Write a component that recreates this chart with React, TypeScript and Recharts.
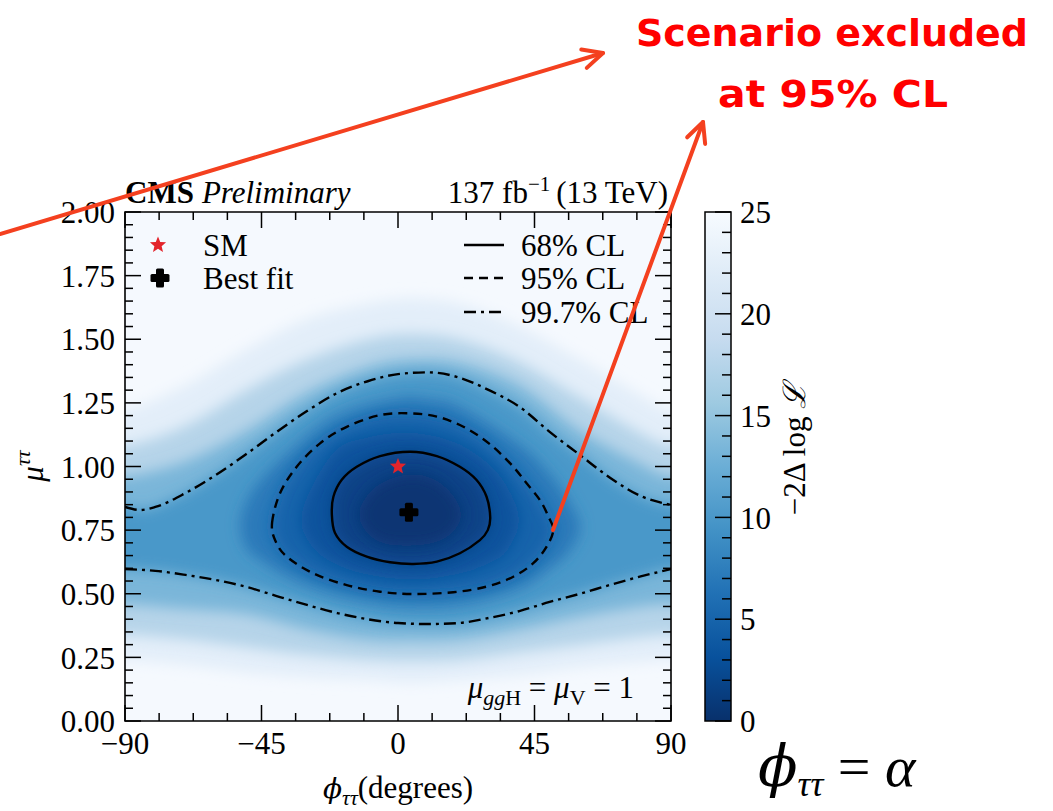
// Likelihood scan of mu_tautau vs phi_tautau (CMS style) with colorbar and annotations.
import React from "react";
import {
  ComposedChart,
  BarChart,
  Bar,
  Scatter,
  XAxis,
  YAxis,
  CartesianGrid,
  ReferenceArea,
} from "recharts";

const W = 1053;
const H = 811;
const PW = 546; // plot width
const PH = 509; // plot height
const SERIF = "'Liberation Serif', 'DejaVu Serif', serif";
const GREEK = "'DejaVu Serif', serif";

// axis ticks
const phiTicks = [-90, -78.75, -67.5, -56.25, -45, -33.75, -22.5, -11.25, 0, 11.25, 22.5, 33.75, 45, 56.25, 67.5, 78.75, 90];
const phiMajor = [-90, -45, 0, 45, 90];
const muTicks = [0, 0.05, 0.1, 0.15, 0.2, 0.25, 0.3, 0.35, 0.4, 0.45, 0.5, 0.55, 0.6, 0.65, 0.7, 0.75, 0.8, 0.85, 0.9, 0.95, 1, 1.05, 1.1, 1.15, 1.2, 1.25, 1.3, 1.35, 1.4, 1.45, 1.5, 1.55, 1.6, 1.65, 1.7, 1.75, 1.8, 1.85, 1.9, 1.95, 2];
const muMajor = [0, 0.25, 0.5, 0.75, 1, 1.25, 1.5, 1.75, 2];
const cbTicks = [0, 1, 2, 3, 4, 5, 6, 7, 8, 9, 10, 11, 12, 13, 14, 15, 16, 17, 18, 19, 20, 21, 22, 23, 24, 25];
const cbMajor = [0, 5, 10, 15, 20, 25];

// Blues_r colormap stops (top = 25, bottom = 0)
const cmapStops = ["#f7fbff", "#deebf7", "#c6dbef", "#9ecae1", "#6baed6", "#4292c6", "#2171b5", "#08519c", "#08306b"];

// -2 dlogL level regions, [phi, mu]
const lvl25Up = [[-90, 1.22], [-70, 1.32], [-50, 1.46], [-30, 1.58], [-10, 1.64], [4, 1.66], [20, 1.64], [40, 1.55], [60, 1.42], [80, 1.28], [90, 1.22]];
const lvl25Lo = [[-90, 0.24], [-70, 0.22], [-50, 0.19], [-30, 0.17], [-10, 0.16], [4, 0.15], [20, 0.16], [40, 0.18], [60, 0.21], [80, 0.23], [90, 0.24]];
const lvl20Up = [[-90, 1.08], [-70, 1.16], [-50, 1.3], [-30, 1.42], [-10, 1.5], [4, 1.52], [20, 1.5], [40, 1.41], [60, 1.27], [80, 1.13], [90, 1.08]];
const lvl20Lo = [[-90, 0.34], [-70, 0.32], [-50, 0.29], [-30, 0.26], [-10, 0.24], [4, 0.235], [20, 0.24], [40, 0.27], [60, 0.3], [80, 0.33], [90, 0.34]];
const lvl15Up = [[-90, 0.96], [-70, 1.02], [-50, 1.14], [-30, 1.29], [-10, 1.39], [4, 1.42], [20, 1.41], [40, 1.32], [60, 1.14], [80, 1.01], [90, 0.96]];
const lvl15Lo = [[-90, 0.46], [-70, 0.44], [-50, 0.42], [-30, 0.36], [-10, 0.32], [4, 0.315], [20, 0.32], [40, 0.36], [60, 0.41], [80, 0.45], [90, 0.46]];
// 99.7% CL contour (two open curves)
const cl997Up = [[-90, 0.841], [-85, 0.829], [-80, 0.841], [-70, 0.896], [-60, 0.967], [-50, 1.049], [-40, 1.136], [-30, 1.218], [-20, 1.289], [-10, 1.335], [0, 1.363], [10, 1.37], [20, 1.35], [30, 1.3], [40, 1.235], [50, 1.136], [60, 1.045], [70, 0.955], [80, 0.884], [90, 0.849]];
const cl997Lo = [[-90, 0.597], [-80, 0.59], [-70, 0.574], [-60, 0.554], [-50, 0.527], [-40, 0.491], [-30, 0.456], [-20, 0.424], [-10, 0.4], [0, 0.385], [10, 0.381], [20, 0.385], [30, 0.405], [40, 0.432], [50, 0.468], [60, 0.5], [70, 0.535], [80, 0.568], [90, 0.597]];
const lvl8 = [[-52, 0.77], [-50, 0.86], [-45, 0.95], [-35, 1.064], [-20, 1.199], [0, 1.269], [10, 1.265], [20, 1.237], [40, 1.086], [50, 0.97], [56, 0.87], [60, 0.76], [56, 0.66], [50, 0.6], [40, 0.523], [20, 0.46], [0, 0.455], [-20, 0.497], [-35, 0.56], [-45, 0.63], [-50, 0.68]];
// 95% CL contour
const cl95 = [[-41.5, 0.78], [-38.9, 0.895], [-33.4, 0.999], [-25.7, 1.091], [-16.9, 1.156], [-5.9, 1.202], [4, 1.209], [12.8, 1.196], [20.4, 1.163], [27, 1.117], [32.5, 1.065], [38, 0.999], [42.4, 0.934], [46.8, 0.868], [49.6, 0.803], [51.2, 0.75], [49, 0.685], [44.6, 0.62], [38, 0.567], [29.2, 0.528], [18.2, 0.506], [5, 0.499], [-5.9, 0.508], [-16.9, 0.534], [-27.9, 0.58], [-36.7, 0.646], [-40.5, 0.71]];
const lvl4 = [[-32, 0.79], [-28, 0.93], [-20, 1.07], [-10, 1.115], [0, 1.133], [10, 1.125], [20, 1.089], [30, 1.01], [36, 0.92], [40, 0.79], [36, 0.67], [30, 0.62], [20, 0.578], [5, 0.555], [-10, 0.575], [-20, 0.613], [-28, 0.68]];
// 68% CL contour
const cl68 = [[-21.8, 0.81], [-21.3, 0.881], [-18.6, 0.947], [-13.6, 0.999], [-5.9, 1.041], [4, 1.058], [12.8, 1.041], [20.4, 0.999], [25.9, 0.947], [29.2, 0.881], [30.4, 0.8], [29.6, 0.75], [27, 0.711], [20.4, 0.659], [12.8, 0.626], [5, 0.617], [-2.6, 0.624], [-10.3, 0.646], [-16.9, 0.685], [-20.8, 0.74]];
const lvl1 = [[-13, 0.81], [-10, 0.89], [-4, 0.945], [4, 0.97], [12, 0.95], [18, 0.89], [21, 0.81], [18, 0.74], [12, 0.7], [4, 0.688], [-4, 0.695], [-10, 0.735]];

const smPoint = [[0, 1.0]];
const bestFitPoint = [[3.6, 0.82]];

const toXY = (arr: number[][]) => arr.map(([x, y]) => ({ x, y }));
const band = (up: number[][], lo: number[][]) => {
  const pts = [[-105, up[0][1]], ...up, [105, up[up.length - 1][1]], [105, lo[lo.length - 1][1]], ...[...lo].reverse(), [-105, lo[0][1]]];
  return toXY(pts);
};

const fills = [
  { key: "l25", pts: band(lvl25Up, lvl25Lo), color: "#e3eef9" },
  { key: "l20", pts: band(lvl20Up, lvl20Lo), color: "#b6d4e9" },
  { key: "l15", pts: band(lvl15Up, lvl15Lo), color: "#7ab6d9" },
  { key: "l11", pts: band(cl997Up, cl997Lo), color: "#4a98c9" },
  { key: "l8", pts: toXY(lvl8), color: "#2979b9" },
  { key: "l6", pts: toXY(cl95), color: "#1764ab" },
  { key: "l4", pts: toXY(lvl4), color: "#09529d" },
  { key: "l2", pts: toXY(cl68), color: "#084286" },
  { key: "l1", pts: toXY(lvl1), color: "#083573" },
];

// closed Catmull-Rom curve for d3 line
const catmullClosed = (ctx: any) => {
  let pts: number[][] = [];
  return {
    areaStart() {},
    areaEnd() {},
    lineStart() {
      pts = [];
    },
    point(x: number, y: number) {
      pts.push([+x, +y]);
    },
    lineEnd() {
      const n = pts.length;
      if (n < 3) return;
      ctx.moveTo(pts[0][0], pts[0][1]);
      for (let i = 0; i < n; i++) {
        const p0 = pts[(i - 1 + n) % n];
        const p1 = pts[i];
        const p2 = pts[(i + 1) % n];
        const p3 = pts[(i + 2) % n];
        ctx.bezierCurveTo(
          p1[0] + (p2[0] - p0[0]) / 6,
          p1[1] + (p2[1] - p0[1]) / 6,
          p2[0] - (p3[0] - p1[0]) / 6,
          p2[1] - (p3[1] - p1[1]) / 6,
          p2[0],
          p2[1]
        );
      }
      ctx.closePath();
    },
  };
};

const Hidden = () => <g />;

const starPath = (cx: number, cy: number, R: number, r: number) => {
  let d = "";
  for (let i = 0; i < 10; i++) {
    const a = -Math.PI / 2 + (i * Math.PI) / 5;
    const rr = i % 2 ? r : R;
    d += (i ? "L" : "M") + (cx + rr * Math.cos(a)).toFixed(2) + "," + (cy + rr * Math.sin(a)).toFixed(2);
  }
  return d + "Z";
};

const Star = ({ cx, cy }: any) => <path d={starPath(cx, cy, 8.5, 3.8)} fill="#e3242b" />;
const Plus = ({ cx, cy }: any) => (
  <g fill="#000">
    <rect x={cx - 9.5} y={cy - 4} width={19} height={8} rx={1.5} />
    <rect x={cx - 4} y={cy - 9.5} width={8} height={19} rx={1.5} />
  </g>
);

const fmtPhi = (v: number) => (v < 0 ? "\u2212" + Math.abs(v) : String(v));

const XTick = ({ x, y, payload }: any) => {
  const v = payload.value;
  const major = phiMajor.includes(v);
  const len = major ? 16 : 8;
  return (
    <g>
      <line x1={x} y1={y} x2={x} y2={y - len} stroke="#000" strokeWidth={1.5} />
      <line x1={x} y1={y - PH} x2={x} y2={y - PH + len} stroke="#000" strokeWidth={1.5} />
      {major && (
        <text x={x} y={y + 33} textAnchor="middle" fontSize={31} fontFamily={SERIF} fill="#000">
          {fmtPhi(v)}
        </text>
      )}
    </g>
  );
};

const YTick = ({ x, y, payload }: any) => {
  const v = payload.value;
  const major = muMajor.includes(v);
  const len = major ? 16 : 8;
  return (
    <g>
      <line x1={x} y1={y} x2={x + len} y2={y} stroke="#000" strokeWidth={1.5} />
      <line x1={x + PW} y1={y} x2={x + PW - len} y2={y} stroke="#000" strokeWidth={1.5} />
      {major && (
        <text x={x - 10} y={y} dy="0.36em" textAnchor="end" fontSize={31} fontFamily={SERIF} fill="#000">
          {v.toFixed(2)}
        </text>
      )}
    </g>
  );
};

const CbTick = ({ x, y, payload }: any) => {
  const v = payload.value;
  const major = cbMajor.includes(v);
  const len = major ? 16 : 9;
  return (
    <g>
      <line x1={x} y1={y} x2={x - len} y2={y} stroke="#000" strokeWidth={1.5} />
      {major && (
        <text x={x + 9} y={y} dy="0.36em" textAnchor="start" fontSize={31} fontFamily={SERIF} fill="#000">
          {v}
        </text>
      )}
    </g>
  );
};

const cbData = [{ name: "cb", v: 25 }];

const Arrow = ({ x1, y1, x2, y2 }: { x1: number; y1: number; x2: number; y2: number }) => {
  const a = Math.atan2(y2 - y1, x2 - x1);
  const L = 22;
  const s = 0.45;
  const b1x = x2 - L * Math.cos(a - s);
  const b1y = y2 - L * Math.sin(a - s);
  const b2x = x2 - L * Math.cos(a + s);
  const b2y = y2 - L * Math.sin(a + s);
  return (
    <g stroke="#f4401f" strokeWidth={4} strokeLinecap="round" fill="none">
      <line x1={x1} y1={y1} x2={x2} y2={y2} />
      <polyline points={`${b1x},${b1y} ${x2},${y2} ${b2x},${b2y}`} strokeLinejoin="round" />
    </g>
  );
};

const legendLines = [
  { label: "68% CL", dash: undefined, y: 245 },
  { label: "95% CL", dash: "9 6", y: 278 },
  { label: "99.7% CL", dash: "12 5 3 5", y: 312 },
];

export default function App() {
  return (
    <div style={{ position: "absolute", left: 0, top: 0, width: W, height: H, background: "#fff", overflow: "hidden" }}>
      <div style={{ position: "absolute", left: 0, top: 0 }}>
        <ComposedChart width={W} height={H} margin={{ top: 212, right: 382, bottom: 60, left: 65 }}>
          <defs>
            <filter id="soft" x="-50%" y="-50%" width="200%" height="200%">
              <feGaussianBlur stdDeviation="7" />
            </filter>
          </defs>
          <CartesianGrid horizontal={false} vertical={false} fill="#f5f9fe" />
          {fills.map((f) => (
            <Scatter
              key={f.key}
              data={f.pts}
              fill={f.color}
              line={{ fill: f.color, stroke: "none", filter: "url(#soft)", style: { filter: "url(#soft)" } }}
              lineJointType={catmullClosed}
              shape={Hidden}
              isAnimationActive={false}
              zIndex={100}
            />
          ))}
          <Scatter
            data={toXY(cl997Up)}
            fill="#000"
            line={{ stroke: "#000", strokeWidth: 2.4, fill: "none", strokeDasharray: "12 5 3 5" }}
            lineJointType="monotoneX"
            shape={Hidden}
            isAnimationActive={false}
            zIndex={110}
          />
          <Scatter
            data={toXY(cl997Lo)}
            fill="#000"
            line={{ stroke: "#000", strokeWidth: 2.4, fill: "none", strokeDasharray: "12 5 3 5" }}
            lineJointType="monotoneX"
            shape={Hidden}
            isAnimationActive={false}
            zIndex={110}
          />
          <Scatter
            data={toXY(cl95)}
            fill="#000"
            line={{ stroke: "#000", strokeWidth: 2.4, fill: "none", strokeDasharray: "9 6" }}
            lineJointType={catmullClosed}
            shape={Hidden}
            isAnimationActive={false}
            zIndex={110}
          />
          <Scatter
            data={toXY(cl68)}
            fill="#000"
            line={{ stroke: "#000", strokeWidth: 2.4, fill: "none" }}
            lineJointType={catmullClosed}
            shape={Hidden}
            isAnimationActive={false}
            zIndex={110}
          />
          <Scatter data={toXY(smPoint)} fill="#e3242b" shape={Star} isAnimationActive={false} zIndex={120} />
          <Scatter data={toXY(bestFitPoint)} fill="#000" shape={Plus} isAnimationActive={false} zIndex={120} />
          <XAxis
            type="number"
            dataKey="x"
            domain={[-90, 90]}
            ticks={phiTicks}
            interval={0}
            allowDataOverflow
            height={30}
            tickSize={0}
            tickMargin={0}
            tickLine={false}
            axisLine={false}
            tick={XTick}
          />
          <YAxis
            type="number"
            dataKey="y"
            domain={[0, 2]}
            ticks={muTicks}
            interval={0}
            allowDataOverflow
            width={60}
            tickSize={0}
            tickMargin={0}
            tickLine={false}
            axisLine={false}
            tick={YTick}
          />
          <ReferenceArea x1={-90} x2={90} y1={0} y2={2} fill="none" stroke="#000" strokeWidth={1.6} zIndex={600} />
        </ComposedChart>
      </div>

      <div style={{ position: "absolute", left: 0, top: 0 }}>
        <BarChart width={W} height={H} data={cbData} margin={{ top: 212, right: 262, bottom: 90, left: 705 }} barCategoryGap={0}>
          <defs>
            <linearGradient id="cbGrad" x1="0" y1="0" x2="0" y2="1">
              {cmapStops.map((c, i) => (
                <stop key={i} offset={i / (cmapStops.length - 1)} stopColor={c} />
              ))}
            </linearGradient>
          </defs>
          <XAxis dataKey="name" hide />
          <Bar dataKey="v" fill="url(#cbGrad)" stroke="#000" strokeWidth={1.5} isAnimationActive={false} />
          <YAxis
            orientation="right"
            type="number"
            domain={[0, 25]}
            ticks={cbTicks}
            interval={0}
            width={60}
            tickSize={0}
            tickMargin={0}
            tickLine={false}
            axisLine={false}
            tick={CbTick}
          />
        </BarChart>
      </div>

      <svg width={W} height={H} style={{ position: "absolute", left: 0, top: 0, pointerEvents: "none" }}>
        <g fontFamily={SERIF} fontSize={31} fill="#000">
          <text x={125} y={203}>
            <tspan fontWeight="bold">CMS</tspan>
            <tspan fontStyle="italic" dx={8}>Preliminary</tspan>
          </text>
          <text x={668} y={203} textAnchor="end">
            137 fb<tspan fontSize={21} dy={-12}>{"\u22121"}</tspan>
            <tspan dy={12} dx={6}>(13 TeV)</tspan>
          </text>

          <path d={starPath(158, 245, 8.5, 3.8)} fill="#e3242b" />
          <text x={203} y={256}>SM</text>
          <Plus cx={160} cy={278} />
          <text x={203} y={289}>Best fit</text>
          {legendLines.map((l) => (
            <g key={l.label}>
              <line x1={464} y1={l.y} x2={504} y2={l.y} stroke="#000" strokeWidth={2.4} strokeDasharray={l.dash} />
              <text x={521} y={l.y + 11}>{l.label}</text>
            </g>
          ))}

          <text x={634} y={698} textAnchor="end" style={{ whiteSpace: "pre" }}>
            <tspan fontStyle="italic">μ</tspan>
            <tspan fontStyle="italic" fontSize={22} dy={7}>gg</tspan>
            <tspan fontSize={22}>H</tspan>
            <tspan dy={-7}>{" = "}</tspan>
            <tspan fontStyle="italic">μ</tspan>
            <tspan fontSize={22} dy={7}>V</tspan>
            <tspan dy={-7}>{" = 1"}</tspan>
          </text>

          <text x={398} y={798} textAnchor="middle">
            <tspan fontStyle="italic" fontFamily={GREEK} fontSize={28}>{"\u03d5"}</tspan>
            <tspan fontStyle="italic" fontSize={22} dy={7}>ττ</tspan>
            <tspan dy={-7}>(degrees)</tspan>
          </text>

          <text transform="translate(43,466) rotate(-90)" textAnchor="middle">
            <tspan fontStyle="italic">μ</tspan>
            <tspan fontStyle="italic" fontSize={22} dy={-13}>ττ</tspan>
          </text>

          <text transform="translate(805,449) rotate(-90)" textAnchor="middle" style={{ whiteSpace: "pre" }}>
            {"\u22122Δ log "}
            <tspan fontStyle="italic">ℒ</tspan>
          </text>

          <text x={758} y={786} fontSize={58} style={{ whiteSpace: "pre" }}>
            <tspan fontStyle="italic" fontFamily={GREEK}>{"\u03d5"}</tspan>
            <tspan fontStyle="italic" fontSize={36} dy={10}>ττ</tspan>
            <tspan dy={-10}>{" = "}</tspan>
            <tspan fontStyle="italic">α</tspan>
          </text>
        </g>

        <Arrow x1={0} y1={234} x2={603} y2={53} />
        <Arrow x1={553} y1={530} x2={703} y2={122} />

        <g fill="#ff0000" fontFamily="'Comic Sans MS', 'DejaVu Sans', sans-serif" fontWeight="bold" fontSize={38}>
          <text x={636} y={46} textLength={392} lengthAdjust="spacingAndGlyphs">Scenario excluded</text>
          <text x={718} y={107} textLength={230} lengthAdjust="spacingAndGlyphs">at 95% CL</text>
        </g>
      </svg>
    </div>
  );
}
